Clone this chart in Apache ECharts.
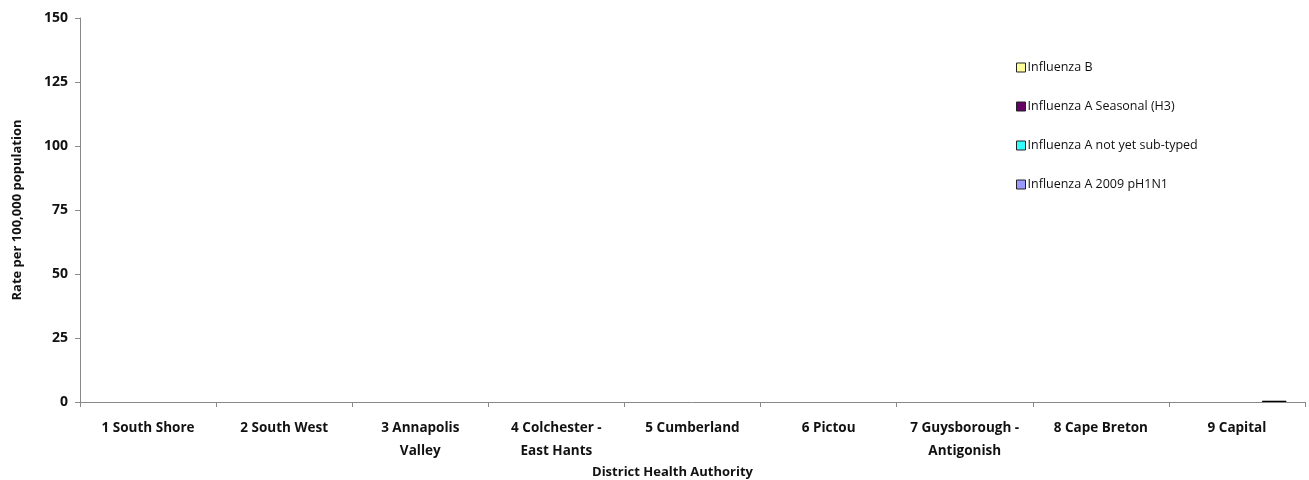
<!DOCTYPE html>
<html>
<head>
    <meta charset="utf-8">
    <title>Influenza rate by District Health Authority</title>
    <script src="https://cdn.jsdelivr.net/npm/echarts@6/dist/echarts.min.js"></script>
    <style>
        html, body { margin: 0; padding: 0; background: #fff; }
        #chart { width: 1309px; height: 480px; }
    </style>
</head>
<body>
<div id="chart"></div>
<script>
    // districts (x axis)
    var districts = ['1 South Shore', '2 South West', '3 Annapolis\nValley', '4 Colchester -\nEast Hants',
        '5 Cumberland', '6 Pictou', '7 Guysborough -\nAntigonish', '8 Cape Breton', '9 Capital'];
    var yTicks = [0, 25, 50, 75, 100, 125, 150];

    // rate per 100,000 by series
    var fluB = [0, 0, 0, 0, 0, 0, 0, 0, 0];
    var fluAH3 = [0, 0, 0, 0, 0, 0, 0, 0, 0];
    var fluANotTyped = [0, 0, 0, 0, 0, 0, 0, 0, 0];
    var fluAH1N1 = [0, 0, 0, 0, 0, 0, 0, 0, 0.5];

    var font = '"Open Sans", "Liberation Sans", sans-serif';

    function bar(name, data, color) {
        return {
            name: name,
            type: 'bar',
            // zero rates: no bar drawn (Excel shows nothing)
            data: data.map(function (v) { return v > 0 ? v : '-'; }),
            barGap: '0%',
            barCategoryGap: '27%',
            itemStyle: { color: color, borderColor: '#000', borderWidth: 1 }
        };
    }

    var $echart = echarts.init(document.getElementById('chart'));
    $echart.setOption({
        animation: false,
        textStyle: { fontFamily: font },
        grid: { left: 80, right: 4, top: 18, bottom: 78, containLabel: false, outerBoundsMode: 'none' },
        legend: {
            orient: 'vertical',
            left: 1011,
            top: 56,
            itemGap: 26,
            itemWidth: 9,
            itemHeight: 9,
            icon: 'rect',
            data: ['Influenza B', 'Influenza A Seasonal (H3)', 'Influenza A not yet sub-typed', 'Influenza A 2009 pH1N1'],
            itemStyle: { borderColor: '#222', borderWidth: 1 },
            textStyle: { fontSize: 12.5, color: '#111', fontFamily: font, padding: [0, 0, 0, -3] }
        },
        xAxis: {
            type: 'category',
            data: districts,
            name: 'District Health Authority',
            nameLocation: 'middle',
            nameGap: 64,
            nameMoveOverlap: false,
            nameTextStyle: { fontWeight: 'bold', fontSize: 13, color: '#111', padding: [0, 40, 0, 0] },
            axisLine: { lineStyle: { color: '#888' } },
            axisTick: { show: true, length: 5, lineStyle: { color: '#888' } },
            axisLabel: { interval: 0, fontWeight: 'bold', fontSize: 13.5, color: '#111', margin: 15, lineHeight: 23 }
        },
        yAxis: {
            type: 'value',
            min: yTicks[0],
            max: yTicks[yTicks.length - 1],
            interval: 25,
            name: 'Rate per 100,000 population',
            nameLocation: 'middle',
            nameGap: 56,
            nameMoveOverlap: false,
            nameTextStyle: { fontWeight: 'bold', fontSize: 13, color: '#111' },
            axisLine: { show: true, lineStyle: { color: '#888' } },
            axisTick: { show: true, length: 5, lineStyle: { color: '#888' } },
            splitLine: { show: false },
            axisLabel: { fontWeight: 'bold', fontSize: 14, color: '#111', margin: 12 }
        },
        series: [
            bar('Influenza B', fluB, '#FFFF99'),
            bar('Influenza A Seasonal (H3)', fluAH3, '#660066'),
            bar('Influenza A not yet sub-typed', fluANotTyped, '#33FFFF'),
            bar('Influenza A 2009 pH1N1', fluAH1N1, '#9999FF')
        ]
    });
</script>
</body>
</html>
